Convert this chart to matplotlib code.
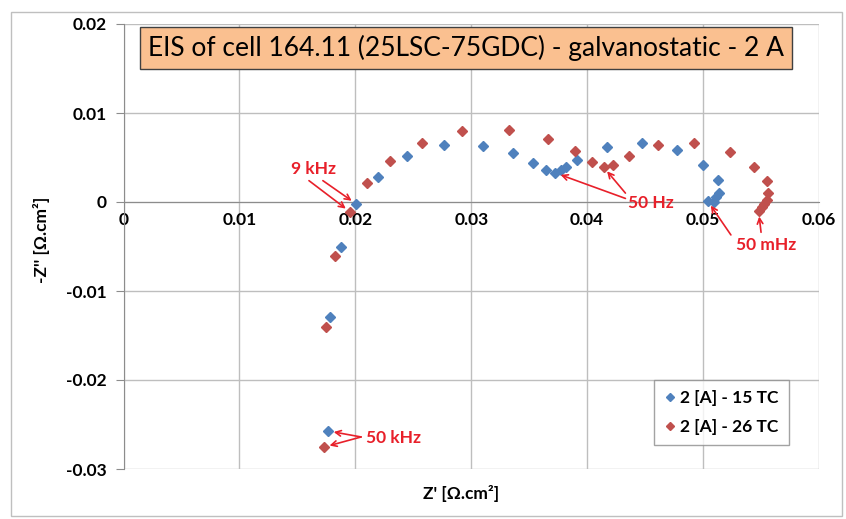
#EIS Nyquist plot of cell 164.11, galvanostatic 2 A
import matplotlib
matplotlib.use("Agg")
import matplotlib.pyplot as plt
from matplotlib.patches import Rectangle

plt.rcParams['font.family'] = ['Lato', 'DejaVu Sans']

#data: Z' and -Z'' in ohm.cm2
z_re_15 = [0.01766, 0.01783, 0.01878, 0.02008, 0.02198, 0.02448, 0.02768, 0.03105,
           0.03364, 0.03536, 0.03649, 0.03726, 0.03778, 0.03821, 0.03916, 0.04167,
           0.04469, 0.04771, 0.04996, 0.05125, 0.05134, 0.05108, 0.05090, 0.05039]
z_im_15 = [-0.02573, -0.01292, -0.00506, -0.00022, 0.00281, 0.00517, 0.00640, 0.00629,
           0.00551, 0.00438, 0.00360, 0.00326, 0.00360, 0.00393, 0.00472, 0.00618,
           0.00663, 0.00584, 0.00416, 0.00247, 0.00101, 0.00056, 0.00000, 0.00011]

z_re_26 = [0.01731, 0.01749, 0.01826, 0.01956, 0.02103, 0.02302, 0.02578, 0.02923,
           0.03329, 0.03666, 0.03899, 0.04046, 0.04141, 0.04227, 0.04357, 0.04607,
           0.04918, 0.05229, 0.05436, 0.05548, 0.05557, 0.05548, 0.05522, 0.05505, 0.05479]
z_im_26 = [-0.02753, -0.01404, -0.00607, -0.00112, 0.00213, 0.00461, 0.00663, 0.00798,
           0.00809, 0.00708, 0.00573, 0.00449, 0.00393, 0.00416, 0.00517, 0.00640,
           0.00663, 0.00562, 0.00393, 0.00236, 0.00101, 0.00022, -0.00022, -0.00056, -0.00101]

x_ticks = [0, 0.01, 0.02, 0.03, 0.04, 0.05, 0.06]
y_ticks = [-0.03, -0.02, -0.01, 0, 0.01, 0.02]
x_labels = ["0", "0.01", "0.02", "0.03", "0.04", "0.05", "0.06"]
y_labels = ["-0.03", "-0.02", "-0.01", "0", "0.01", "0.02"]

blue = "#4F81BD"
red = "#C0504D"
ann = "#E8202A"
grid = "#BEBEBE"

fig = plt.figure(figsize=(8.46, 5.19), dpi=100)
ax = fig.add_axes([123.5/846, 1-469/519, (819-123.5)/846, (469-24)/519])

#outer chart border
fig.patches.append(Rectangle((11/846, 1-516/519), 831/846, 504/519, transform=fig.transFigure,
                             fill=False, edgecolor="#BFBFBF", linewidth=1))

ax.plot(z_re_15, z_im_15, 'D', color=blue, ms=5.6, mec=blue, label="2 [A] - 15 TC", zorder=3)
ax.plot(z_re_26, z_im_26, 'D', color=red, ms=5.6, mec=red, label="2 [A] - 26 TC", zorder=3)

ax.set_xlim(0, 0.06)
ax.set_ylim(-0.03, 0.02)
ax.set_xticks(x_ticks)
ax.set_xticklabels(x_labels)
ax.set_yticks(y_ticks)
ax.set_yticklabels(y_labels)
ax.grid(True, color=grid, linewidth=1)
ax.set_axisbelow(True)

for s in ["top", "right"]:
    ax.spines[s].set_visible(False)
ax.spines["bottom"].set_position(("data", 0))
ax.spines["left"].set_position(("data", 0))
ax.spines["bottom"].set_color("#8C8C8C")
ax.spines["left"].set_color("#8C8C8C")
ax.tick_params(axis="x", length=0, pad=7, labelsize=12.5)
ax.tick_params(axis="y", direction="out", length=6, color="#8C8C8C", pad=6, labelsize=12.5)
for lab in ax.get_xticklabels() + ax.get_yticklabels():
    lab.set_fontweight("bold")

fig.text(461/846, 1-494/519, "Z' [Ω.cm²]", ha="center", va="center", fontsize=12.5, fontweight="bold")
fig.text(41/846, 1-240/519, "-Z'' [Ω.cm²]", rotation=90, ha="center", va="center",
         fontsize=12.5, fontweight="bold")

#title box
fig.text(466/846, 1-48/519, "EIS of cell 164.11 (25LSC-75GDC) - galvanostatic - 2 A",
         ha="center", va="center", fontsize=19, color="black",
         bbox=dict(boxstyle="square,pad=0.3", facecolor="#FAC090", edgecolor="#404040", linewidth=1))

leg = ax.legend(loc="lower right", bbox_to_anchor=((789-123.5)/695.5, (469-445)/445),
                borderaxespad=0, frameon=True, fancybox=False, edgecolor="#8C8C8C", handlelength=0.6,
                handletextpad=0.3, borderpad=0.6, labelspacing=0.7, markerscale=0.8,
                prop={"weight": "bold", "size": 12.5})
leg.get_frame().set_linewidth(1)

#frequency annotations: text placed, arrows drawn from a tail point to the data point
arrow = dict(arrowstyle="->", color=ann, lw=1.2, shrinkA=0, shrinkB=4)
txt = dict(color=ann, fontsize=12.5, fontweight="bold", ha="center", va="center")

ax.text(0.01636, 0.0037, "9 kHz", **txt)
ax.annotate("", xy=(z_re_26[3], z_im_26[3]), xytext=(0.01600, 0.0024), arrowprops=arrow)
ax.annotate("", xy=(z_re_15[3], z_im_15[3]), xytext=(0.01720, 0.0024), arrowprops=arrow)

ax.text(0.04547, -0.0001, "50 Hz", **txt)
ax.annotate("", xy=(z_re_15[11], z_im_15[11]), xytext=(0.04330, 0.0004), arrowprops=arrow)
ax.annotate("", xy=(z_re_26[12], z_im_26[12]), xytext=(0.04330, 0.0010), arrowprops=arrow)

ax.text(0.05540, -0.00483, "50 mHz", **txt)
ax.annotate("", xy=(z_re_15[23], z_im_15[23]), xytext=(0.05240, -0.0037), arrowprops=arrow)
ax.annotate("", xy=(z_re_26[24], z_im_26[24]), xytext=(0.05500, -0.0034), arrowprops=arrow)

ax.text(0.02330, -0.0265, "50 kHz", **txt)
ax.annotate("", xy=(z_re_15[0], z_im_15[0]), xytext=(0.02050, -0.0264), arrowprops=arrow)
ax.annotate("", xy=(z_re_26[0], z_im_26[0]), xytext=(0.02050, -0.0264), arrowprops=arrow)

fig.savefig("out.png", dpi=100)
